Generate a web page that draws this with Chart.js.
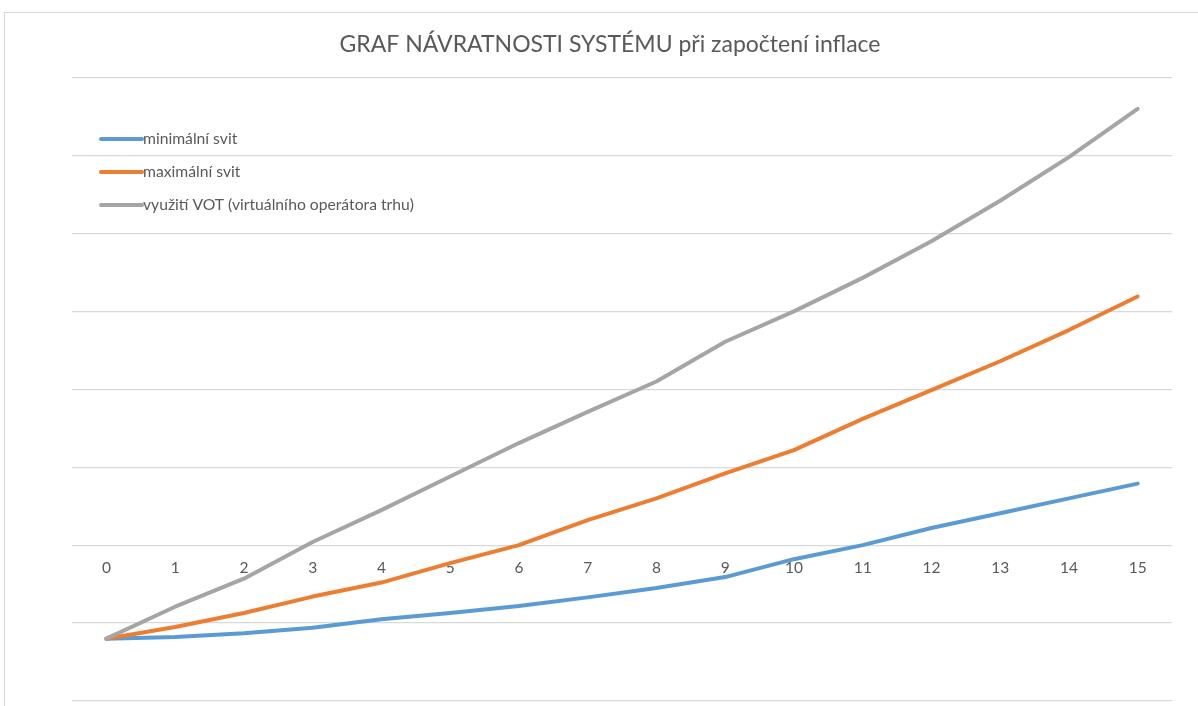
<!DOCTYPE html>
<html>
<head>
<meta charset="utf-8">
<script src="https://cdn.jsdelivr.net/npm/chart.js@4"></script>
<style>
  body { margin: 0; background: #fff; overflow: hidden; }
  #ramecek { position: absolute; left: 4px; top: 12px; width: 1400px; height: 900px;
             border-left: 1px solid #d9d9d9; border-top: 1px solid #d9d9d9; }
  #obal { position: absolute; left: 0; top: 0; width: 1198px; height: 706px; }
</style>
</head>
<body>
<div id="ramecek"></div>
<div id="obal"><canvas id="graf"></canvas></div>
<script>
// roky
var roky = ['0','1','2','3','4','5','6','7','8','9','10','11','12','13','14','15'];

// hodnoty (jednotka = jedna mřížka)
var minimalniSvit = [-1.20, -1.18, -1.13, -1.06, -0.95, -0.87, -0.78, -0.67, -0.55, -0.41, -0.18, 0.00, 0.22, 0.41, 0.60, 0.79];
var maximalniSvit = [-1.20, -1.05, -0.87, -0.66, -0.48, -0.23, 0.00, 0.32, 0.60, 0.92, 1.22, 1.62, 1.99, 2.36, 2.76, 3.19];
var vyuzitiVOT    = [-1.20, -0.79, -0.43, 0.04, 0.45, 0.88, 1.31, 1.71, 2.10, 2.61, 3.00, 3.43, 3.90, 4.42, 4.98, 5.60];

var nazvy = ['minimální svit', 'maximální svit', 'využití VOT (virtuálního operátora trhu)'];
var barvy = ['#5b9bd5', '#ed7d31', '#a5a5a5'];

var pismo = "Lato, 'Liberation Sans', sans-serif";

// legenda uvnitř grafu vlevo nahoře
var legendaUvnitr = {
    id: 'legendaUvnitr',
    afterDraw: function (chart) {
        var ctx = chart.ctx;
        ctx.save();
        ctx.font = '15.7px ' + pismo;
        ctx.textBaseline = 'middle';
        chart.data.datasets.forEach(function (ds, i) {
            var y = 139 + i * 33;
            ctx.strokeStyle = ds.borderColor;
            ctx.lineWidth = 4;
            ctx.lineCap = 'round';
            ctx.beginPath();
            ctx.moveTo(101, y);
            ctx.lineTo(142, y);
            ctx.stroke();
            ctx.fillStyle = '#595959';
            ctx.fillText(ds.label, 143, y);
        });
        ctx.restore();
    }
};

var ctx = document.getElementById('graf');

new Chart(ctx, {
    type: 'line',
    data: {
        labels: roky,
        datasets: [{
            label: nazvy[0],
            data: minimalniSvit,
            borderColor: barvy[0],
            order: 2
        }, {
            label: nazvy[1],
            data: maximalniSvit,
            borderColor: barvy[1],
            order: 1
        }, {
            label: nazvy[2],
            data: vyuzitiVOT,
            borderColor: barvy[2],
            order: 0
        }]
    },
    options: {
        responsive: true,
        maintainAspectRatio: false,
        animation: false,
        elements: {
            line: { borderWidth: 4, tension: 0, borderCapStyle: 'round', borderJoinStyle: 'round' },
            point: { radius: 0, hoverRadius: 0 }
        },
        layout: { padding: { left: 48, right: 26, top: 0, bottom: 5 } },
        plugins: {
            legend: { display: false },
            tooltip: { enabled: false },
            title: {
                display: true,
                text: 'GRAF NÁVRATNOSTI SYSTÉMU při započtení inflace',
                color: '#595959',
                font: { family: pismo, size: 23, weight: 'normal', lineHeight: 1.2 },
                padding: { top: 31, bottom: 19 }
            }
        },
        scales: {
            x: {
                type: 'category',
                position: { y: 0 },
                offset: true,
                grid: { display: false, drawTicks: false },
                border: { display: false },
                ticks: {
                    color: '#595959',
                    font: { family: pismo, size: 15.5 },
                    padding: 14,
                    autoSkip: false,
                    maxRotation: 0
                },
                afterFit: function (s) { s.height = 0; }
            },
            y: {
                min: -2,
                max: 6,
                grid: { color: '#d9d9d9', lineWidth: 1.2, drawTicks: false },
                border: { display: false },
                ticks: { display: false, stepSize: 1 },
                afterFit: function (s) { s.width = 24; }
            }
        }
    },
    plugins: [legendaUvnitr]
});
</script>
</body>
</html>
